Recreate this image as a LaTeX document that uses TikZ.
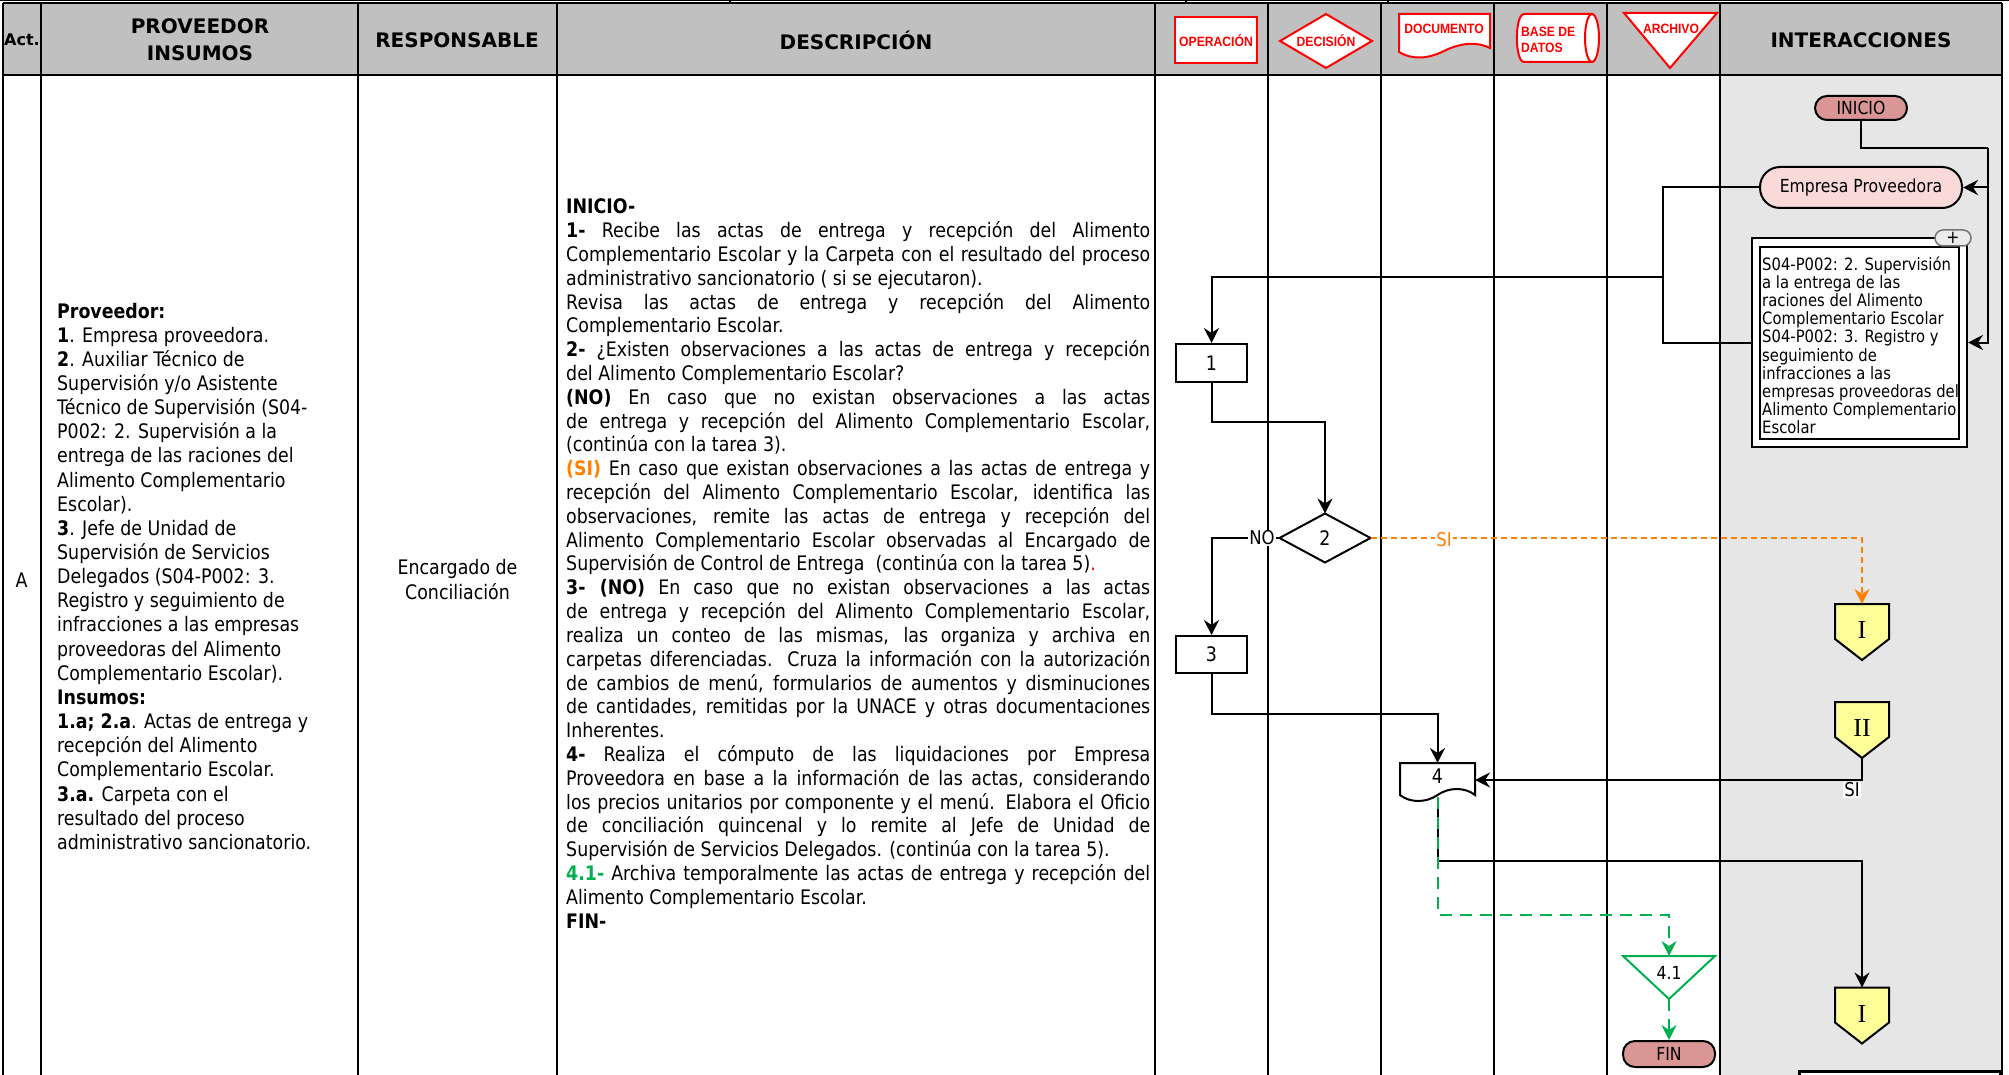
\documentclass[tikz,border=0pt]{standalone}
\usepackage{fontspec}
\setmainfont{DejaVu Sans}[FakeStretch=0.87]
\newfontfamily\hdrfont{DejaVu Sans}
\newfontfamily\redfont{Liberation Sans}[FakeStretch=0.9]
\newfontfamily\serfont{Liberation Serif}
\usetikzlibrary{arrows.meta,calc}
\definecolor{hdrgray}{HTML}{C0C0C0}
\definecolor{intgray}{HTML}{E6E6E6}
\definecolor{rosa}{HTML}{D99694}
\definecolor{rosita}{HTML}{FAD9D9}
\definecolor{amar}{HTML}{FFFF99}
\definecolor{orng}{HTML}{FF8000}
\definecolor{grn}{HTML}{00B050}
\definecolor{redh}{HTML}{FF0000}
\newcommand\fsz[2]{\fontsize{#1pt}{#2pt}\selectfont}
\newcommand\jline[1]{\makebox[584pt][s]{#1}\par}
\newcommand\eline[1]{\mbox{#1}\par}
\begin{document}
\begin{tikzpicture}[x=1pt,y=-1pt,
  grid/.style={line width=2pt},
  ln/.style={line width=2pt},
  conn/.style={line width=2pt,-{Stealth[length=15pt,width=15pt,inset=5pt]}},
  oconn/.style={line width=2pt,draw=orng,dash pattern=on 6pt off 4pt,-{Stealth[length=15pt,width=15pt,inset=5pt,fill=orng]}},
  gconn/.style={line width=2pt,draw=grn,dash pattern=on 12pt off 8pt,-{Stealth[length=15pt,width=15pt,inset=5pt,fill=grn]}},
  box/.style={draw,line width=2pt,fill=white,inner sep=0pt,font=\fsz{20}{24}},
  ghost/.style={inner sep=0pt,outer sep=0pt},
  hdr/.style={font=\hdrfont\bfseries\fsz{20}{27},align=center,inner sep=0pt},
  redlbl/.style={font=\redfont\bfseries\fsz{13.5}{15},text=redh,inner sep=0pt},
  term/.style={draw,line width=2pt,fill=rosa,rounded corners=12pt,inner sep=0pt,font=\fsz{18}{22}},
  pentlbl/.style={font=\serfont\fsz{26}{26},inner sep=0pt},
  lbl/.style={fill=white,inner sep=1pt,font=\fsz{19}{22}}
]
\useasboundingbox (0,0) rectangle (2009,1075);
% ---------- backgrounds ----------
\fill[hdrgray] (3,3) rectangle (2002,75);
\fill[intgray] (1720,75) rectangle (2002,1075);
% ---------- top strip ----------
\draw[line width=1pt] (0,0.5) -- (2009,0.5);
\foreach \xx in {730,1186,1388} \draw[line width=1.5pt] (\xx,0) -- (\xx,3);
% ---------- grid ----------
\draw[grid] (3,3) -- (2002,3);
\draw[grid] (3,75) -- (2002,75);
\foreach \xx in {3,41,358,557,1155,1268,1381,1494,1607,1720,2002}
  \draw[grid] (\xx,3) -- (\xx,1075);
% ---------- header texts ----------
\node[hdr,font=\hdrfont\bfseries\fsz{16}{20}] (hact) at (22,40) {Act.};
\node[hdr] (hprov) at (200,40) {PROVEEDOR\\INSUMOS};
\node[hdr] (hresp) at (457,40) {RESPONSABLE};
\node[hdr] (hdesc) at (856,40) {DESCRIPCIÓN};
\node[hdr] (hint) at (1861,40) {INTERACCIONES};
% ---------- header symbols ----------
\draw[redh,line width=2pt,fill=white] (1175,17) rectangle (1257,63);
\node[redlbl] (sop) at (1216,41) {OPERACIÓN};
\draw[redh,line width=2pt,fill=white] (1280,41) -- (1326,14) -- (1372,41) -- (1326,68) -- cycle;
\node[redlbl] (sdec) at (1326,41) {DECISIÓN};
\draw[redh,line width=2pt,fill=white] (1399,14) -- (1490,14) -- (1490,48)
  .. controls (1478,42) and (1462,42) .. (1444,51)
  .. controls (1428,59) and (1412,60) .. (1399,52) -- cycle;
\node[redlbl] (sdoc) at (1444,29) {DOCUMENTO};
\draw[redh,line width=2pt,fill=white] (1592,14) -- (1524,14)
  .. controls (1514.5,14) and (1514.5,62) .. (1524,62) -- (1592,62);
\draw[redh,line width=2pt,fill=white] (1592,38) ellipse (7pt and 24pt);
\node[redlbl,anchor=west] (sbd1) at (1521,32) {BASE DE};
\node[redlbl,anchor=west] (sbd2) at (1521,48) {DATOS};
\draw[redh,line width=2pt,fill=white] (1624,13) -- (1717,13) -- (1670,68) -- cycle;
\node[redlbl] (sarc) at (1671,29) {ARCHIVO};
% ---------- body texts ----------
\node[font=\fsz{20}{24}] (act) at (21.5,580) {A};
\node[anchor=base west,inner sep=0pt] (prov) at (57,318) {\parbox[t]{298pt}{\fsz{20}{24.15}%
\eline{\textbf{Proveedor:}}%
\eline{\textbf{1}. Empresa proveedora.}%
\eline{\textbf{2}. Auxiliar Técnico de}%
\eline{Supervisión y/o Asistente}%
\eline{Técnico de Supervisión (S04-}%
\eline{P002: 2. Supervisión a la}%
\eline{entrega de las raciones del}%
\eline{Alimento Complementario}%
\eline{Escolar).}%
\eline{\textbf{3}. Jefe de Unidad de}%
\eline{Supervisión de Servicios}%
\eline{Delegados (S04-P002: 3.}%
\eline{Registro y seguimiento de}%
\eline{infracciones a las empresas}%
\eline{proveedoras del Alimento}%
\eline{Complementario Escolar).}%
\eline{\textbf{Insumos:}}%
\eline{\textbf{1.a; 2.a}. Actas de entrega y}%
\eline{recepción del Alimento}%
\eline{Complementario Escolar.}%
\eline{\textbf{3.a.} Carpeta con el}%
\eline{resultado del proceso}%
\eline{administrativo sancionatorio.}}};
\node[align=center,font=\fsz{20}{25},inner sep=0pt] (resp) at (457.5,579.5) {Encargado de\\Conciliación};
\node[anchor=base west,inner sep=0pt] (desc) at (566,214) {\parbox[t]{584pt}{\fsz{20}{23.8}%
\eline{\textbf{INICIO-}}%
\jline{\textbf{1-} Recibe las actas de entrega y recepción del Alimento}%
\jline{Complementario Escolar y la Carpeta con el resultado del proceso}%
\eline{administrativo sancionatorio ( si se ejecutaron).}%
\jline{Revisa las actas de entrega y recepción del Alimento}%
\eline{Complementario Escolar.}%
\jline{\textbf{2-} ¿Existen observaciones a las actas de entrega y recepción}%
\eline{del Alimento Complementario Escolar?}%
\jline{\textbf{(NO)} En caso que no existan observaciones a las actas}%
\jline{de entrega y recepción del Alimento Complementario Escolar,}%
\eline{(continúa con la tarea 3).}%
\jline{\textcolor{orng}{\textbf{(SI)}} En caso que existan observaciones a las actas de entrega y}%
\jline{recepción del Alimento Complementario Escolar, identifica las}%
\jline{observaciones, remite las actas de entrega y recepción del}%
\jline{Alimento Complementario Escolar observadas al Encargado de}%
\eline{Supervisión de Control de Entrega\ \ (continúa con la tarea 5)\textcolor{redh}{.}}%
\jline{\textbf{3- (NO)} En caso que no existan observaciones a las actas}%
\jline{de entrega y recepción del Alimento Complementario Escolar,}%
\jline{realiza un conteo de las mismas, las organiza y archiva en}%
\jline{carpetas diferenciadas. Cruza la información con la autorización}%
\jline{de cambios de menú, formularios de aumentos y disminuciones}%
\jline{de cantidades, remitidas por la UNACE y otras documentaciones}%
\eline{Inherentes.}%
\jline{\textbf{4-} Realiza el cómputo de las liquidaciones por Empresa}%
\jline{Proveedora en base a la información de las actas, considerando}%
\jline{los precios unitarios por componente y el menú. Elabora el Oficio}%
\jline{de conciliación quincenal y lo remite al Jefe de Unidad de}%
\eline{Supervisión de Servicios Delegados. (continúa con la tarea 5).}%
\jline{\textcolor{grn}{\textbf{4.1-}} Archiva temporalmente las actas de entrega y recepción del}%
\eline{Alimento Complementario Escolar.}%
\eline{\textbf{FIN-}}}};
% ---------- flow nodes ----------
\node[box,minimum width=71pt,minimum height=38pt] (b1) at (1211.5,363) {1};
\node[box,minimum width=71pt,minimum height=37pt] (b3) at (1211.5,654.5) {3};
\node[ghost,minimum width=91pt,minimum height=49pt] (d2) at (1325,538) {};
\draw[ln,fill=white] (d2.west) -- (d2.north) -- (d2.east) -- (d2.south) -- cycle;
\node[font=\fsz{20}{24}] (d2t) at (d2) {2};
\node[ghost,minimum width=75pt,minimum height=34pt] (doc4) at (1437.5,780) {};
\draw[ln,fill=white] (1400,763) -- (1475,763) -- (1475,795)
  .. controls (1465,787) and (1449,787) .. (1437.5,795)
  .. controls (1426,803) and (1410,803) .. (1400,795) -- cycle;
\node[font=\fsz{20}{24}] (doc4t) at (1437.5,776) {4};
\node[ghost,minimum width=92pt,minimum height=43pt] (t41) at (1669,977.5) {};
\node[term,minimum width=92pt,minimum height=26pt] (fin) at (1669,1054) {FIN};
\node[term,minimum width=92pt,minimum height=24pt] (ini) at (1861,108) {INICIO};
\node[draw,line width=2pt,fill=rosita,rounded corners=20pt,minimum width=202pt,minimum height=41pt,inner sep=0pt,font=\fsz{18}{22}] (emp) at (1861,187.5) {Empresa Proveedora};
\node[draw,line width=2pt,fill=white,minimum width=215pt,minimum height=209pt,inner sep=0pt] (sub) at (1859.5,342.5) {};
\draw[line width=2pt] (1760,247) rectangle (1959,439);
\node[anchor=base west,inner sep=0pt] (subt) at (1762,270) {\parbox[t]{198pt}{\fsz{17}{18.2}%
\eline{S04-P002: 2. Supervisión}%
\eline{a la entrega de las}%
\eline{raciones del Alimento}%
\eline{Complementario Escolar}%
\eline{S04-P002: 3. Registro y}%
\eline{seguimiento de}%
\eline{infracciones a las}%
\eline{empresas proveedoras del}%
\eline{Alimento Complementario}%
\eline{Escolar}}};
\node[draw=black!55,line width=1.5pt,fill=black!8,rounded corners=8pt,minimum width=36pt,minimum height=16pt,inner sep=0pt,font=\fsz{18}{18}] (plus) at (1953,238) {+};
% pentagons
\node[ghost,minimum width=54pt,minimum height=56pt] (p1) at (1862,632) {};
\node[ghost,minimum width=54pt,minimum height=56pt] (p2) at (1862,730) {};
\node[ghost,minimum width=54pt,minimum height=56pt] (p3) at (1862,1015.5) {};
\foreach \pp in {p1,p2,p3}
  \draw[line width=2pt,fill=amar] (\pp.north west) -- (\pp.north east) -- ($(\pp.north east)+(0,35)$) -- (\pp.south) -- ($(\pp.north west)+(0,35)$) -- cycle;
\node[pentlbl] (p1t) at ($(p1.center)+(0,-2)$) {I};
\node[pentlbl] (p2t) at ($(p2.center)+(0,-2)$) {II};
\node[pentlbl] (p3t) at ($(p3.center)+(0,-2)$) {I};
% bottom-right partial box
\draw[line width=3pt,fill=white] (1799,1071) rectangle (2000,1095);
% ---------- connectors ----------
\coordinate (j1) at (1211.5,422);
\draw[conn] (b1.south) -- (j1) -| (d2.north);
\draw[conn] (d2.west) -| (b3.north);
\node[lbl] (nolbl) at (1262,538) {NO};
\coordinate (j2) at (1211.5,714);
\draw[conn] (b3.south) -- (j2) -| (doc4.north);
\draw[oconn] (d2.east) -| (p1.north);
\node[lbl,text=orng] (silbl) at (1444,540) {SI};
\draw[conn] (p2.south) |- (doc4.east);
\node[lbl] (si2lbl) at (1852,790) {SI};
\coordinate (j4) at (1437.5,861);
\draw[conn] (doc4.south) -- (j4) -| (p3.north);
\coordinate (j3) at (1437.5,915);
\draw[gconn] (doc4.south) -- (j3) -| (t41.north);
\draw[line width=2pt,draw=grn,fill=white] (t41.north west) -- (t41.north east) -- (t41.south) -- cycle;
\node[font=\fsz{18}{22}] (t41t) at (1669,973) {4.1};
\draw[gconn] (t41.south) -- (fin.north);
\coordinate (j5) at (1663,277);
\draw[conn] (emp.west) -| (j5) -| (b1.north);
\draw[ln] (sub.west) -| (j5);
\coordinate (j6) at (1988,148);
\draw[ln] (ini.south) |- (j6);
\draw[conn] (j6) |- (emp.east);
\draw[conn] (j6) |- (sub.east);
\end{tikzpicture}
\end{document}
